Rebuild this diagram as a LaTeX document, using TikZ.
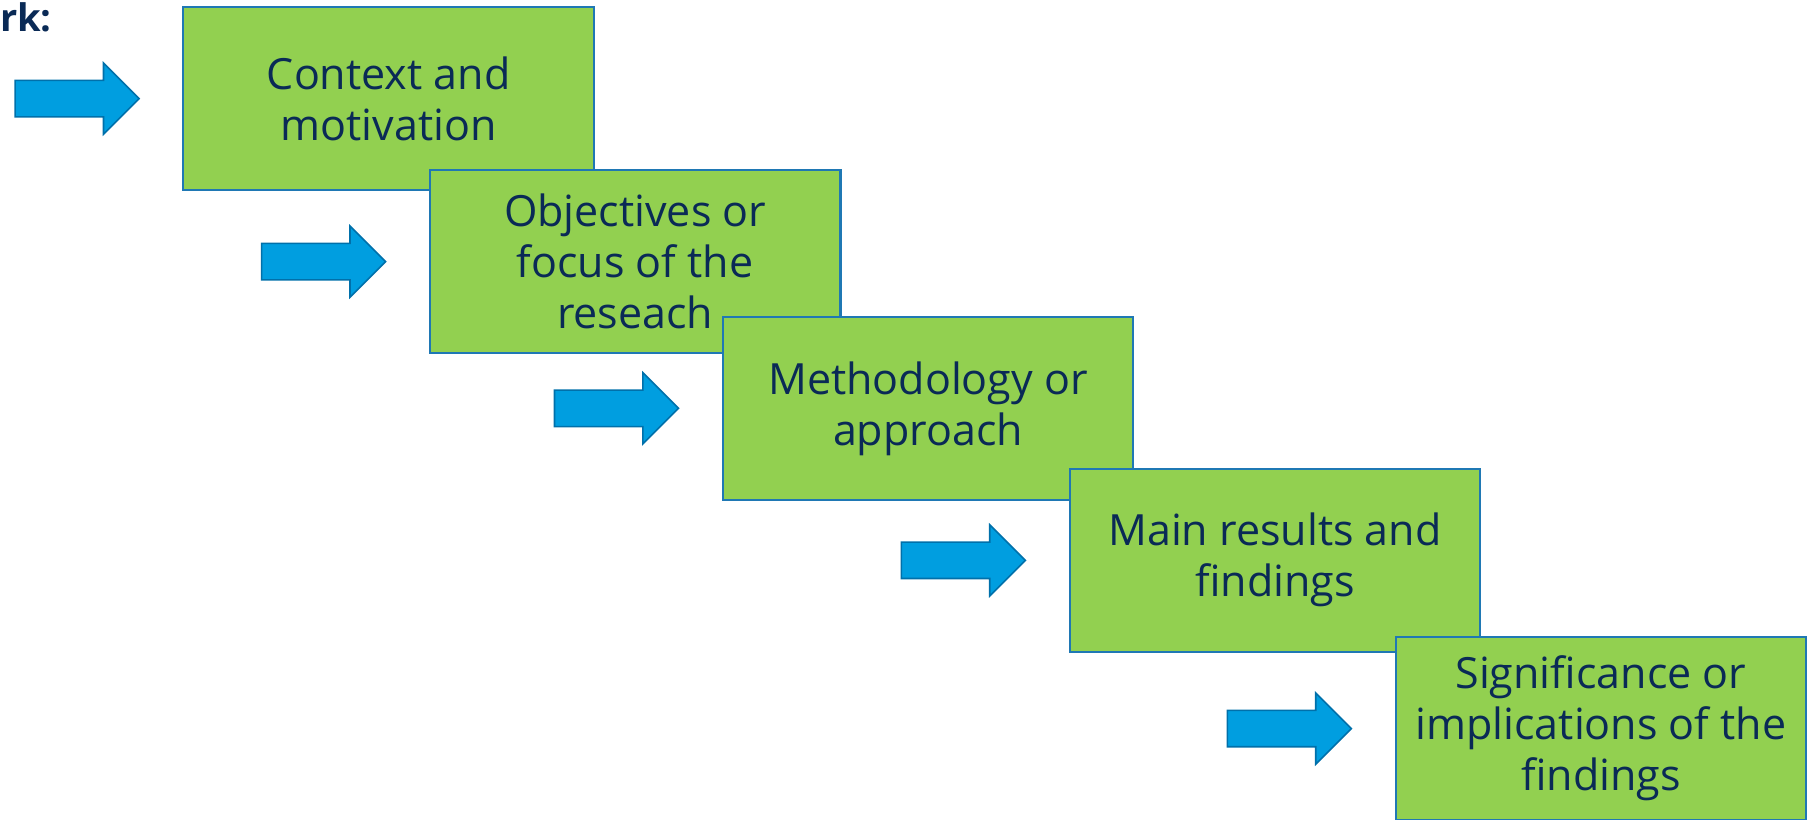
\documentclass[tikz,border=0pt]{standalone}
\usepackage{fontspec}
\setmainfont{Open Sans}
\usepackage{tikz}
\usetikzlibrary{positioning}
\usetikzlibrary{shapes.arrows}
\definecolor{boxgreen}{RGB}{146,208,80}
\definecolor{boxline}{RGB}{31,120,180}
\definecolor{textnavy}{RGB}{10,42,86}
\definecolor{arrowblue}{RGB}{0,158,224}
\definecolor{arrowline}{RGB}{0,112,170}

\begin{document}
\begin{tikzpicture}[
   x=0.58pt, y=-0.58pt,
   stage/.style={rectangle, draw=boxline, line width=1.1pt, fill=boxgreen,
      text=textnavy, minimum width=205.3pt, minimum height=91.6pt,
      inner sep=0pt, align=center, font=\fontsize{21.5}{25.5}\selectfont},
   push/.style={single arrow, draw=arrowline, line width=0.8pt, fill=arrowblue,
      inner sep=0pt, text height=17.4pt, text depth=0pt,
      single arrow head extend=8.7pt, single arrow tip angle=90,
      minimum height=62pt}
]
   \useasboundingbox (0,0) rectangle (1568,706);
   \node[anchor=base east, inner sep=0pt, text=textnavy, font=\fontsize{19}{22}\selectfont\bfseries] (title) at (45,27) {rk:};

   \node[stage] (context) at (335,85) {Context and\\motivation};
   \node[stage] (objectives) at (547.5,225.5) {Objectives or\\focus of the\\reseach};
   \node[stage] (method) at (800,352) {Methodology or\\approach};
   \node[stage] (results) at (1099,483) {Main results and\\findings};
   \node[stage] (significance) at (1380,628) {Significance or\\implications of the\\findings};

   \node[push, left=21pt of context] (pushcontext) {};
   \node[push, left=21pt of objectives] (pushobjectives) {};
   \node[push, left=21pt of method] (pushmethod) {};
   \node[push, left=21pt of results] (pushresults) {};
   \node[push, left=21pt of significance] (pushsignificance) {};
\end{tikzpicture}
\end{document}
